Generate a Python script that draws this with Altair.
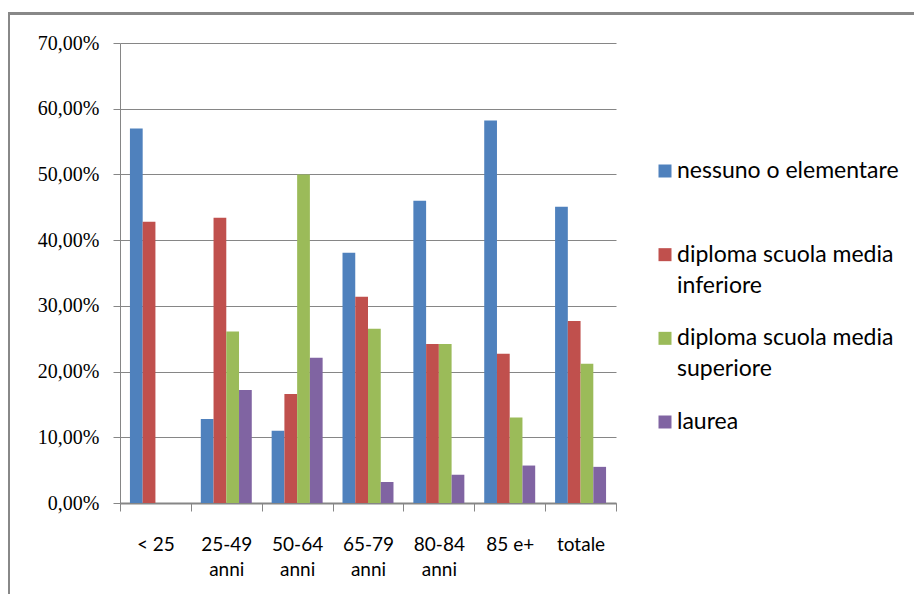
import altair as alt
import pandas as pd

categories = ["< 25", "25-49 anni", "50-64 anni", "65-79 anni", "80-84 anni", "85 e+", "totale"]
series = ["nessuno o elementare", "diploma scuola media inferiore",
          "diploma scuola media superiore", "laurea"]
legend_labels = ["nessuno o elementare", "diploma scuola media\ninferiore",
                 "diploma scuola media\nsuperiore", "laurea"]
colors = ["#4F81BD", "#C0504D", "#9BBB59", "#8064A2"]

nessuno = [0.570, 0.128, 0.110, 0.381, 0.460, 0.582, 0.451]
inferiore = [0.428, 0.434, 0.166, 0.314, 0.242, 0.227, 0.277]
superiore = [None, 0.261, 0.500, 0.265, 0.242, 0.130, 0.212]
laurea = [None, 0.172, 0.221, 0.032, 0.043, 0.057, 0.055]

rows = []
for s, vals in zip(series, [nessuno, inferiore, superiore, laurea]):
    for c, v in zip(categories, vals):
        if v is not None:
            rows.append({"cat": c, "series": s, "value": v})
df = pd.DataFrame(rows)
leg = pd.DataFrame({"series": series, "label": legend_labels})

GRAY = "#868686"
color_scale = alt.Scale(domain=series, range=colors)

frame = alt.Chart(pd.DataFrame({"a": [0]})).mark_rect(
    fillOpacity=0, stroke="#888888", strokeWidth=3
).encode(
    x=alt.value(-111.5), x2=alt.value(900), y=alt.value(-29.5), y2=alt.value(700)
)

bars = alt.Chart(df).mark_bar().encode(
    x=alt.X("cat:N", sort=categories, title=None,
            scale=alt.Scale(paddingInner=0, paddingOuter=0),
            axis=alt.Axis(labelAngle=0, tickBand="extent", tickSize=8, tickColor=GRAY,
                          domainColor=GRAY, domainWidth=2, labelPadding=24,
                          labelFont="Lato", labelFontSize=19, labelColor="#000000",
                          labelLineHeight=25,
                          labelExpr="indexof(datum.label, ' anni') > 0 ? [replace(datum.label, ' anni', ''), 'anni'] : datum.label")),
    xOffset=alt.XOffset("series:N", sort=series,
                        scale=alt.Scale(paddingInner=0, paddingOuter=0.78)),
    y=alt.Y("value:Q", title=None, scale=alt.Scale(domain=[0, 0.7], nice=False),
            axis=alt.Axis(values=[0, 0.1, 0.2, 0.3, 0.4, 0.5, 0.6, 0.7],
                          labelExpr="replace(format(datum.value, '.2%'), '.', ',')",
                          tickSize=7, tickColor=GRAY, domainColor=GRAY, domainWidth=1,
                          gridColor=GRAY, gridWidth=1, labelPadding=14,
                          labelFont="Liberation Serif", labelFontSize=20,
                          labelColor="#000000")),
    color=alt.Color("series:N", scale=color_scale, legend=None),
)

leg_sq = alt.Chart(leg).mark_square(size=169, opacity=1).encode(
    x=alt.value(545),
    y=alt.Y("series:N", sort=series, axis=None,
            scale=alt.Scale(type="point", range=[128, 379], padding=0)),
    color=alt.Color("series:N", scale=color_scale, legend=None),
)
leg_txt = alt.Chart(leg).mark_text(
    align="left", baseline="top", dy=-11, lineBreak="\n", lineHeight=31,
    font="Lato", fontSize=23, color="#000000"
).encode(
    x=alt.value(557),
    y=alt.Y("series:N", sort=series, axis=None,
            scale=alt.Scale(type="point", range=[128, 379], padding=0)),
    text="label:N",
)

legend_layer = alt.layer(leg_sq, leg_txt)

chart = alt.layer(frame, bars, legend_layer).resolve_scale(y="independent").properties(
    width=496, height=460,
    autosize=alt.AutoSizeParams(type="none"),
    padding={"left": 112, "top": 35, "right": 298, "bottom": 91},
).configure_view(strokeWidth=0).configure_axisX(grid=False)

chart.save("out.html", embed_options={"renderer": "svg", "actions": False})
